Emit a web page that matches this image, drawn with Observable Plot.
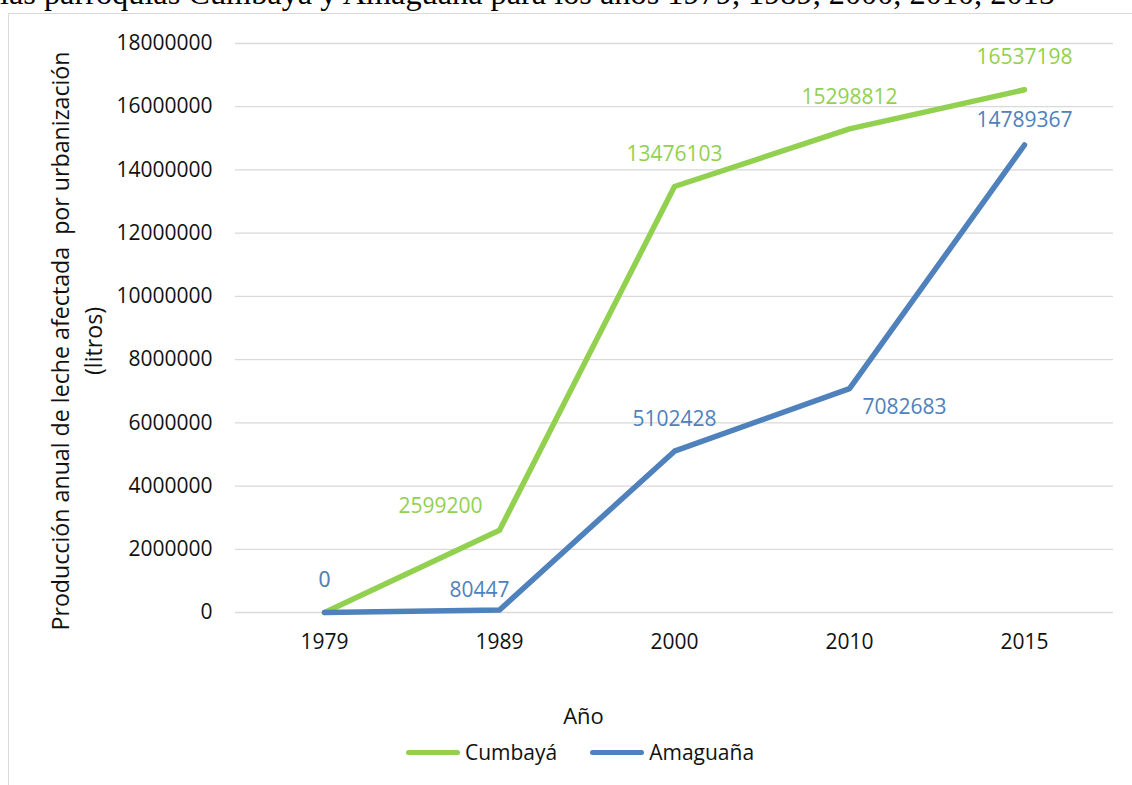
<!DOCTYPE html>
<html>
<head>
<meta charset="utf-8">
<script src="https://cdn.jsdelivr.net/npm/d3@7"></script>
<script src="https://cdn.jsdelivr.net/npm/@observablehq/plot@0.6"></script>
<style>
  html, body { margin: 0; padding: 0; background: #fff; }
  body { width: 1132px; height: 785px; overflow: hidden; position: relative; font-family: "Open Sans", sans-serif; }
  #title { position: absolute; left: 0; top: -23px; font-family: "Liberation Serif", "Times New Roman", serif; font-size: 32.3px; line-height: 1; white-space: nowrap; color: #000; }
  #frame { position: absolute; left: 8px; top: 13px; width: 1160px; height: 820px; border: 1px solid #d9d9d9; box-sizing: border-box; background: transparent; }
  #chart { position: absolute; left: 0; top: 0; }
  #legend { position: absolute; left: 0; width: 1142px; top: 724px; display: flex; justify-content: center; align-items: center; gap: 33px; font-size: 21px; color: #111; }
  .item { display: flex; align-items: center; gap: 5px; }
  .swatch { width: 54px; height: 5px; border-radius: 3px; }
</style>
</head>
<body>
<div id="title">las parroquias Cumbayá y Amaguaña para los años 1979, 1989, 2000, 2010, 2015</div>
<div id="frame">
  <div id="chart"></div>
  <div id="legend"></div>
</div>
<script>
// ---- data ----
const years = ["1979", "1989", "2000", "2010", "2015"];
const cumbaya = [0, 2599200, 13476103, 15298812, 16537198];
const amaguana = [0, 80447, 5102428, 7082683, 14789367];
const yTicks = [0, 2000000, 4000000, 6000000, 8000000, 10000000, 12000000, 14000000, 16000000, 18000000];
const seriesNames = ["Cumbayá", "Amaguaña"];
const seriesColors = ["#92D050", "#4F81BD"];
const yTitle = "Producción anual de leche afectada  por urbanización\n(litros)";
const xTitle = "Año";

// data-label placement keywords per series (by year index)
const labelPlacement = {
  "Cumbayá": ["above", "upLeft", "above", "above", "above"],
  "Amaguaña": ["above", "upLeftNear", "above", "right", "aboveNear"]
};
// placement styles
const placementStyle = {
  above: {textAnchor: "middle", dx: 0, dy: -32},
  aboveNear: {textAnchor: "middle", dx: 0, dy: -25},
  upLeft: {textAnchor: "end", dx: -17, dy: -24},
  upLeftNear: {textAnchor: "end", dx: 10, dy: -20},
  right: {textAnchor: "start", dx: 13, dy: 19}
};

const seriesValues = {"Cumbayá": cumbaya, "Amaguaña": amaguana};
const rows = seriesNames.flatMap(s => years.map((yr, i) => ({
  series: s, year: yr, value: seriesValues[s][i], place: labelPlacement[s][i]
})));

const color = {domain: seriesNames, range: seriesColors};
const labelMarks = [];
for (const s of seriesNames) {
  for (const [key, st] of Object.entries(placementStyle)) {
    const sub = rows.filter(d => d.series === s && d.place === key);
    if (!sub.length) continue;
    labelMarks.push(Plot.text(sub, {
      x: "year", y: "value", text: d => String(d.value),
      fill: "series", fontSize: 21, ...st
    }));
  }
}

const chart = Plot.plot({
  width: 1123,
  height: 725,
  marginLeft: 226,
  marginRight: 19,
  marginTop: 29,
  marginBottom: 127,
  style: {fontFamily: "Open Sans, sans-serif", background: "transparent", overflow: "visible"},
  x: {type: "point", domain: years, padding: 0.5},
  y: {domain: [0, 18000000]},
  color,
  marks: [
    Plot.ruleY(yTicks, {stroke: "#d9d9d9", strokeWidth: 1.3}),
    Plot.axisY(yTicks, {tickSize: 0, tickPadding: 23, fontSize: 21, fill: "#111", label: null, tickFormat: d => String(d)}),
    Plot.axisX({tickSize: 0, tickPadding: 22, fontSize: 21, fill: "#111", label: null}),
    Plot.line(rows, {x: "year", y: "value", z: "series", stroke: "series", strokeWidth: 5.5, strokeLinecap: "round", strokeLinejoin: "round"}),
    ...labelMarks,
    Plot.text([xTitle], {text: d => d, frameAnchor: "bottom-left", textAnchor: "middle", dx: 348, dy: 111, fontSize: 22, fill: "#111"}),
    Plot.text([yTitle], {text: d => d, frameAnchor: "left", textAnchor: "middle", rotate: -90, dx: -161, dy: 13, fontSize: 23.2, lineHeight: 1.42, fill: "#111"})
  ]
});
document.getElementById("chart").appendChild(chart);

// legend
const legend = document.getElementById("legend");
seriesNames.forEach((s, i) => {
  const item = document.createElement("div");
  item.className = "item";
  const sw = document.createElement("div");
  sw.className = "swatch";
  sw.style.background = seriesColors[i];
  const lab = document.createElement("span");
  lab.textContent = s;
  item.appendChild(sw);
  item.appendChild(lab);
  legend.appendChild(item);
});
</script>
</body>
</html>
